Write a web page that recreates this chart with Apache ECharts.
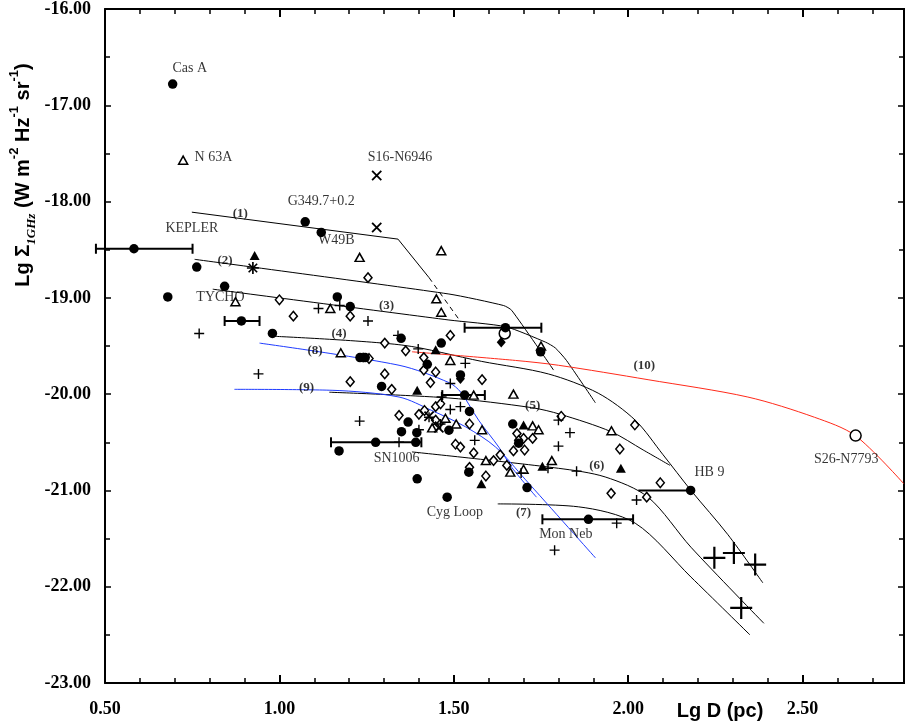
<!DOCTYPE html>
<html>
<head>
<meta charset="utf-8">
<script src="https://cdn.jsdelivr.net/npm/echarts@6/dist/echarts.min.js"></script>
<style>
  html, body { margin: 0; padding: 0; background: #fff; overflow: hidden; }
  #chart { width: 980px; height: 727px; }
</style>
</head>
<body>
<div id="chart"></div>
<script>
// points: [Lg D, Lg Sigma]
var filledCircles = [
    [0.694, -16.78], [0.583, -18.49], [0.763, -18.68], [0.680, -18.99], [0.843, -18.88],
    [0.891, -19.24], [0.980, -19.37], [1.074, -18.21], [1.120, -18.32], [1.166, -18.99],
    [1.203, -19.09], [1.349, -19.42], [1.231, -19.62], [1.246, -19.62], [1.293, -19.92],
    [1.648, -19.31], [1.749, -19.56], [1.464, -19.47], [1.424, -19.69], [1.519, -19.80],
    [1.531, -20.01], [1.545, -20.18], [1.369, -20.29], [1.350, -20.39], [1.394, -20.40],
    [1.391, -20.50], [1.276, -20.50], [1.171, -20.59], [1.486, -20.375], [1.669, -20.31],
    [1.543, -20.81], [1.395, -20.88], [1.481, -21.07], [1.710, -20.97], [1.686, -20.51],
    [1.886, -21.30], [2.179, -21.00]
];
var openTriangles = [
    [0.724, -17.57], [0.874, -19.04], [1.146, -19.11], [1.230, -18.58], [1.464, -18.51],
    [1.450, -19.01], [1.464, -19.15], [1.176, -19.57], [1.750, -19.50], [1.490, -19.65],
    [1.557, -20.01], [1.671, -20.00], [1.476, -20.25], [1.438, -20.35], [1.507, -20.31],
    [1.581, -20.37], [1.592, -20.69], [1.662, -20.81], [1.700, -20.78], [1.726, -20.33],
    [1.743, -20.37], [1.781, -20.69], [1.952, -20.38]
];
var filledTriangles = [
    [0.929, -18.56], [1.395, -19.96], [1.448, -19.54], [1.700, -20.32], [1.754, -20.75],
    [1.979, -20.77], [1.579, -20.93]
];
var openDiamonds = [
    [1.254, -18.79], [1.000, -19.02], [1.040, -19.19], [1.203, -19.19], [1.302, -19.47],
    [1.362, -19.55], [1.302, -19.79], [1.203, -19.87], [1.322, -19.95], [1.257, -19.63],
    [1.414, -19.62], [1.414, -19.75], [1.448, -19.77], [1.433, -19.88], [1.490, -19.39],
    [1.581, -19.85], [1.343, -20.22], [1.400, -20.21], [1.416, -20.17], [1.448, -20.13],
    [1.462, -20.10], [1.448, -20.27], [1.448, -20.34], [1.545, -20.31], [1.505, -20.52],
    [1.519, -20.55], [1.557, -20.61], [1.614, -20.69], [1.633, -20.63], [1.652, -20.74],
    [1.671, -20.59], [1.681, -20.41], [1.700, -20.46], [1.703, -20.58], [1.726, -20.46],
    [1.545, -20.76], [1.592, -20.85], [1.808, -20.23], [2.019, -20.32], [1.976, -20.57],
    [2.092, -20.92], [1.951, -21.03], [2.053, -21.07], [1.686, -20.48]
];
var filledDiamonds = [[1.636, -19.46], [1.519, -19.84], [1.240, -19.62]];
var smallPlus = [
    [0.770, -19.37], [1.112, -19.11], [1.173, -19.08], [1.254, -19.24], [1.340, -19.39],
    [1.398, -19.53], [0.940, -19.79], [1.230, -20.28], [1.343, -20.50], [1.533, -19.68],
    [1.490, -19.89], [1.465, -20.03], [1.490, -20.16], [1.519, -20.13], [1.429, -20.24],
    [1.462, -20.31], [1.400, -20.37], [1.560, -20.48], [1.800, -20.27], [1.833, -20.40],
    [1.800, -20.54], [1.852, -20.80], [1.770, -20.77], [1.693, -20.82], [2.024, -21.10],
    [1.967, -21.34], [1.789, -21.62]
];
var bigPlus = [[2.247, -21.70], [2.303, -21.65], [2.364, -21.77], [2.324, -22.22]];
var crosses = [[1.279, -17.73], [1.279, -18.27], [1.429, -20.23], [1.457, -20.35]];
var asterisks = [[0.924, -18.69]];
var openCircles = [[2.652, -20.43], [1.646, -19.37]];

// horizontal error bars: [low, high, y]
var errorBars = [
    [0.474, 0.751, -18.49], [0.843, 0.943, -19.24], [1.148, 1.407, -20.50],
    [1.531, 1.751, -19.31], [1.467, 1.589, -20.01], [1.754, 2.014, -21.30]
];
var hb9Bar = [[2.029, 2.179, -21.00]];

// model tracks
var curve1 = [[0.749, -18.11], [1.340, -18.39], [1.429, -18.79]];
var curve1Dash = [[1.429, -18.79], [1.520, -19.25]];
var curve2 = [[0.757, -18.60], [1.486, -18.96], [1.643, -19.08], [1.666, -19.13], [1.786, -19.75]];
var curve3 = [[0.809, -18.91], [1.486, -19.23], [1.649, -19.30], [1.763, -19.46], [1.791, -19.52], [1.823, -19.65], [1.906, -20.09]];
var curve4 = [[0.989, -19.40], [1.351, -19.49], [1.580, -19.66], [1.771, -19.79], [1.914, -19.99], [2.020, -20.27], [2.100, -20.63], [2.180, -21.00], [2.286, -21.46], [2.386, -21.96]];
var curve5 = [[1.143, -19.98], [1.486, -20.04], [1.723, -20.14], [1.806, -20.21], [1.951, -20.39], [2.043, -20.58], [2.120, -20.74]];
var curve6 = [[1.380, -20.60], [1.800, -20.77], [1.934, -20.86], [2.057, -21.07], [2.180, -21.59], [2.389, -22.38]];
var curve7 = [[1.626, -21.14], [1.857, -21.17], [2.020, -21.34], [2.180, -21.90], [2.349, -22.50]];
var curve8 = [[0.943, -19.47], [1.343, -19.70], [1.486, -19.88], [1.520, -19.98], [1.571, -20.27], [1.629, -20.55], [1.666, -20.76], [1.737, -21.07]];
var curve9 = [[0.871, -19.95], [1.151, -19.96], [1.343, -20.03], [1.437, -20.17], [1.534, -20.34], [1.620, -20.55], [1.706, -20.89], [1.906, -21.70]];
var curve10 = [[1.380, -19.56], [1.677, -19.65], [1.800, -19.70], [2.057, -19.85], [2.343, -20.03], [2.534, -20.24], [2.651, -20.43], [2.790, -20.93]];

// text anchors: [x, y, text]
var objectNames = [
    [0.743, -16.62, 'Cas A'], [0.811, -17.54, 'N 63A'], [1.346, -17.54, 'S16-N6946'],
    [1.120, -18.00, 'G349.7+0.2'], [0.749, -18.28, 'KEPLER'], [1.163, -18.40, 'W49B'],
    [0.831, -18.99, 'TYCHO'], [1.336, -20.67, 'SN1006'], [1.503, -21.23, 'Cyg Loop'],
    [1.821, -21.46, 'Mon Neb'], [2.233, -20.81, 'HB 9'], [2.625, -20.676, 'S26-N7793']
];
var curveNames = [
    [0.888, -18.13, '(1)'], [0.844, -18.61, '(2)'], [1.307, -19.08, '(3)'], [1.171, -19.37, '(4)'],
    [1.726, -20.115, '(5)'], [1.910, -20.74, '(6)'], [1.700, -21.23, '(7)'], [1.102, -19.55, '(8)'],
    [1.078, -19.93, '(9)'], [2.046, -19.70, '(10)']
];

var xTicks = { min: 0.5, max: 3.0, step: 0.5 };
var yTicks = { min: -23, max: -16, step: 1 };

var SERIF = '"Liberation Serif", "Times New Roman", serif';
var SANS = '"Liberation Sans", Arial, sans-serif';
var PLUS = 'path://M0,4.3H10V5.7H0Z M4.3,0H5.7V10H4.3Z';
var BIGPLUS = 'path://M0,4.5H10V5.5H0Z M4.5,0H5.5V10H4.5Z';

function curveSeries(data, color, dashed, smooth) {
    return {
        type: 'line', data: data, showSymbol: false, smooth: smooth, z: 1,
        lineStyle: { color: color, width: 1, type: dashed ? [5, 4] : 'solid' },
        silent: true
    };
}

function markerSeries(data, symbol, size, fill, stroke, border, rotate) {
    return {
        type: 'scatter', data: data, symbol: symbol, symbolSize: size, symbolRotate: rotate || 0, z: 5,
        itemStyle: { color: fill, borderColor: stroke, borderWidth: border, opacity: 1 }
    };
}

function barSeries(data, caps) {
    return {
        type: 'custom', data: data, z: 4, clip: false,
        renderItem: function (params, api) {
            var y = api.value(2);
            var a = api.coord([api.value(0), y]);
            var b = api.coord([api.value(1), y]);
            var st = { stroke: '#000', lineWidth: 2 };
            var kids = [{ type: 'line', shape: { x1: a[0], y1: a[1], x2: b[0], y2: b[1] }, style: st }];
            if (caps) {
                kids.push({ type: 'line', shape: { x1: a[0], y1: a[1] - 5, x2: a[0], y2: a[1] + 5 }, style: st });
                kids.push({ type: 'line', shape: { x1: b[0], y1: b[1] - 5, x2: b[0], y2: b[1] + 5 }, style: st });
            }
            return { type: 'group', children: kids };
        }
    };
}

function textSeries(data, font, size, weight) {
    return {
        type: 'scatter', data: data, symbolSize: 0, z: 6, silent: true,
        label: {
            show: true, position: 'inside', color: '#000',
            fontFamily: font, fontSize: size, fontWeight: weight,
            formatter: function (p) { return p.data[2]; }
        }
    };
}

var chart = echarts.init(document.getElementById('chart'), null, { renderer: 'canvas' });

var xCommon = {
    type: 'value', min: xTicks.min, max: xTicks.max, interval: xTicks.step,
    axisLine: { show: true, onZero: false, lineStyle: { color: '#000', width: 2 } },
    axisTick: { show: true, inside: true, length: 8, lineStyle: { color: '#000', width: 2 } },
    minorTick: { show: true, splitNumber: 5, length: 5, lineStyle: { color: '#000', width: 1.5 } },
    splitLine: { show: false }
};
var yCommon = {
    type: 'value', min: yTicks.min, max: yTicks.max, interval: yTicks.step,
    axisLine: { show: true, onZero: false, lineStyle: { color: '#000', width: 2 } },
    axisTick: { show: true, inside: true, length: 6, lineStyle: { color: '#000', width: 1.5 } },
    minorTick: { show: true, splitNumber: 2, length: 5, lineStyle: { color: '#000', width: 1.5 } },
    splitLine: { show: false }
};

var option = {
    animation: false,
    backgroundColor: '#fff',
    grid: { left: 105, top: 9, right: 0, bottom: 44 },
    xAxis: [
        Object.assign({}, xCommon, {
            position: 'bottom',
            axisLabel: {
                margin: 17, color: '#000', fontFamily: SERIF, fontWeight: 'bold', fontSize: 18,
                formatter: function (v) { return v <= 2.5 ? v.toFixed(2) : ''; }
            }
        }),
        Object.assign({}, xCommon, { position: 'top', axisLabel: { show: false } })
    ],
    yAxis: [
        Object.assign({}, yCommon, {
            position: 'left',
            axisLabel: {
                margin: 14, color: '#000', fontFamily: SERIF, fontWeight: 'bold', fontSize: 18,
                formatter: function (v) { return v.toFixed(2); }
            }
        }),
        Object.assign({}, yCommon, { position: 'right', offset: -73, axisLabel: { show: false } })
    ],
    graphic: [
        {
            type: 'text', x: 720, y: 711, silent: true,
            style: {
                text: 'Lg D (pc)', fill: '#000', align: 'center', verticalAlign: 'middle',
                font: 'bold 20px ' + SANS
            }
        },
        {
            type: 'text', x: 23, y: 175, rotation: Math.PI / 2, silent: true,
            style: {
                text: '{m|Lg Σ}{sub|1GHz}{m| (W m}{sup|-2}{m| Hz}{sup|-1}{m| sr}{sup|-1}{m|)}',
                fill: '#000', align: 'center', verticalAlign: 'middle',
                rich: {
                    m: { fontFamily: SANS, fontWeight: 'bold', fontSize: 20, lineHeight: 30, fill: '#000' },
                    sub: { fontFamily: SERIF, fontStyle: 'italic', fontWeight: 'bold', fontSize: 13, lineHeight: 16, verticalAlign: 'bottom', fill: '#000' },
                    sup: { fontFamily: SANS, fontWeight: 'bold', fontSize: 13, lineHeight: 18, verticalAlign: 'top', fill: '#000' }
                }
            }
        }
    ],
    series: [
        curveSeries(curve1, '#000', false, false),
        curveSeries(curve1Dash, '#000', true, false),
        curveSeries(curve2, '#000', false, 0.2),
        curveSeries(curve3, '#000', false, 0.2),
        curveSeries(curve4, '#000', false, 0.3),
        curveSeries(curve5, '#000', false, 0.3),
        curveSeries(curve6, '#000', false, 0.3),
        curveSeries(curve7, '#000', false, 0.3),
        curveSeries(curve8, '#1f3cff', false, 0.3),
        curveSeries(curve9, '#1f3cff', false, 0.3),
        curveSeries(curve10, '#ff2a1a', false, 0.3),
        barSeries(errorBars, true),
        barSeries(hb9Bar, false),
        markerSeries(openDiamonds, 'diamond', [8, 9.5], '#fff', '#000', 1.5),
        markerSeries(openTriangles, 'triangle', [9, 8], '#fff', '#000', 1.5),
        markerSeries(openCircles, 'circle', 11, '#fff', '#000', 1.5),
        markerSeries(filledDiamonds, 'diamond', [9, 10.5], '#000', '#000', 0),
        markerSeries(filledTriangles, 'triangle', [10, 9], '#000', '#000', 0),
        markerSeries(filledCircles, 'circle', 9.5, '#000', '#000', 0),
        markerSeries(smallPlus, PLUS, 10, '#000', '#000', 0),
        markerSeries(bigPlus, BIGPLUS, 22, '#000', '#000', 0),
        markerSeries(crosses, PLUS, 13, '#000', '#000', 0, 45),
        markerSeries(asterisks, PLUS, 12, '#000', '#000', 0),
        markerSeries(asterisks, PLUS, 12, '#000', '#000', 0, 45),
        textSeries(objectNames, SERIF, 14, 'normal'),
        textSeries(curveNames, SERIF, 13, 'bold')
    ]
};

chart.setOption(option);
</script>
</body>
</html>
